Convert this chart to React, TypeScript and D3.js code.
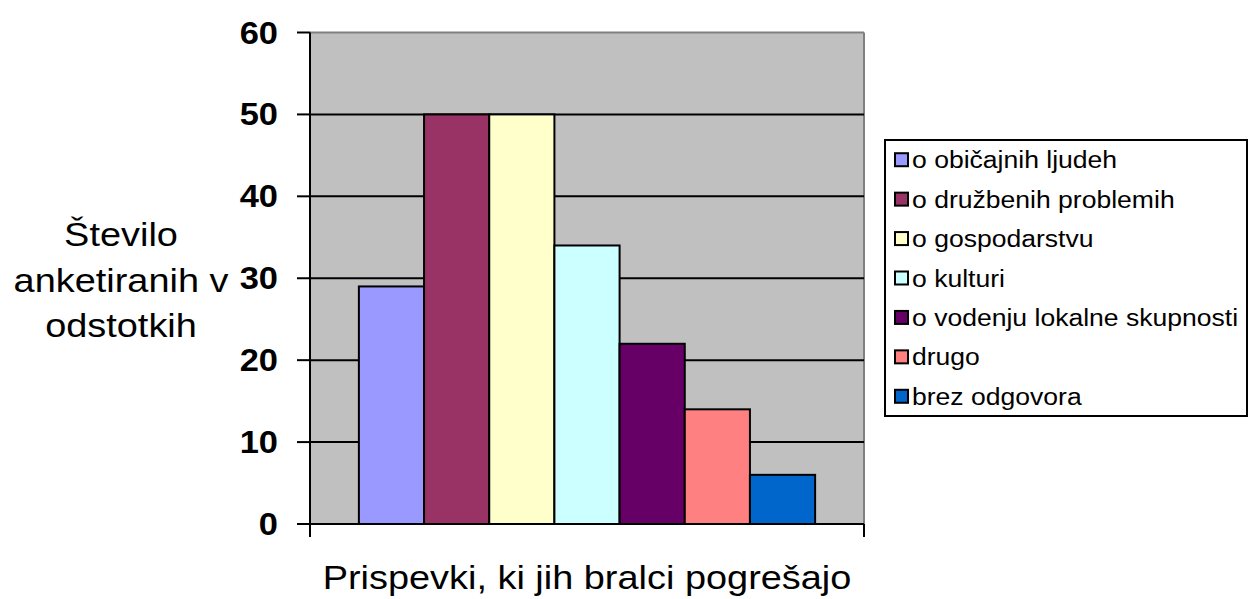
import React from "react";
import * as d3 from "d3";

const category = "Prispevki, ki jih bralci pogrešajo";
const seriesNames = [
  "o običajnih ljudeh",
  "o družbenih problemih",
  "o gospodarstvu",
  "o kulturi",
  "o vodenju lokalne skupnosti",
  "drugo",
  "brez odgovora",
];
const seriesValues = [29, 50, 50, 34, 22, 14, 6];
const seriesColors = ["#9999FF", "#993366", "#FFFFCC", "#CCFFFF", "#660066", "#FF8080", "#0066CC"];
const yTicks = [0, 10, 20, 30, 40, 50, 60];
const yTitleLines = ["Število", "anketiranih v", "odstotkih"];

const FONT = "'Liberation Sans', Arial, sans-serif";

function T({ x, y, size, sx = 1.15, anchor = "start", weight = "normal", children }: any) {
  return (
    <text
      transform={`translate(${x},${y}) scale(${sx},1)`}
      fontSize={size}
      fontFamily={FONT}
      fontWeight={weight}
      textAnchor={anchor}
      fill="#000"
    >
      {children}
    </text>
  );
}

export default function App() {
  const W = 1249, H = 599;
  const left = 310, right = 864, top = 32.5, bottom = 524;
  const y = d3.scaleLinear().domain([0, 60]).range([bottom, top]);
  const x = d3.scaleBand<string>().domain(seriesNames).range([left, right]).paddingInner(0).paddingOuter(0.75);

  const legX = 885, legY = 140, legW = 362, legH = 276;
  const rowH = legH / seriesNames.length;

  return (
    <svg width={W} height={H} style={{ position: "absolute", left: 0, top: 0 }}>
      <rect x={0} y={0} width={W} height={H} fill="#fff" />
      {/* plot area */}
      <rect x={left} y={top} width={right - left} height={bottom - top} fill="#C0C0C0" />
      <line x1={left} x2={right} y1={top} y2={top} stroke="#808080" strokeWidth={2} />
      <line x1={right} x2={right} y1={top} y2={bottom} stroke="#808080" strokeWidth={2} />
      {/* gridlines */}
      {yTicks.filter((t) => t > 0 && t < 60).map((t) => (
        <line key={t} x1={left} x2={right} y1={y(t)} y2={y(t)} stroke="#000" strokeWidth={2} />
      ))}
      {/* bars */}
      {seriesNames.map((s, i) => (
        <rect
          key={s}
          x={x(s)}
          y={y(seriesValues[i])}
          width={x.bandwidth()}
          height={y(0) - y(seriesValues[i])}
          fill={seriesColors[i]}
          stroke="#000"
          strokeWidth={2}
        />
      ))}
      {/* axes */}
      <line x1={left} x2={left} y1={top} y2={bottom + 13} stroke="#000" strokeWidth={2} />
      <line x1={left} x2={right} y1={bottom} y2={bottom} stroke="#000" strokeWidth={2} />
      <line x1={right} x2={right} y1={bottom} y2={bottom + 13} stroke="#000" strokeWidth={2} />
      {yTicks.map((t) => (
        <g key={t}>
          <line x1={left - 13} x2={left} y1={y(t)} y2={y(t)} stroke="#000" strokeWidth={2} />
          <T x={278} y={y(t) + 11} size={30.5} sx={1.13} anchor="end" weight="bold">{t}</T>
        </g>
      ))}
      {/* titles */}
      {yTitleLines.map((l, i) => (
        <T key={l} x={121} y={246 + i * 45.5} size={34} sx={1.115} anchor="middle">{l}</T>
      ))}
      <T x={587} y={589} size={34} sx={1.115} anchor="middle">{category}</T>
      {/* legend */}
      <rect x={legX} y={legY} width={legW} height={legH} fill="#fff" stroke="#000" strokeWidth={2} />
      {seriesNames.map((s, i) => {
        const cy = legY + rowH / 2 + i * rowH;
        return (
          <g key={s}>
            <rect x={895} y={cy - 6.5} width={13} height={13} fill={seriesColors[i]} stroke="#000" strokeWidth={2} />
            <T x={912} y={cy + 8.5} size={23.5} sx={1.13}>{s}</T>
          </g>
        );
      })}
    </svg>
  );
}
